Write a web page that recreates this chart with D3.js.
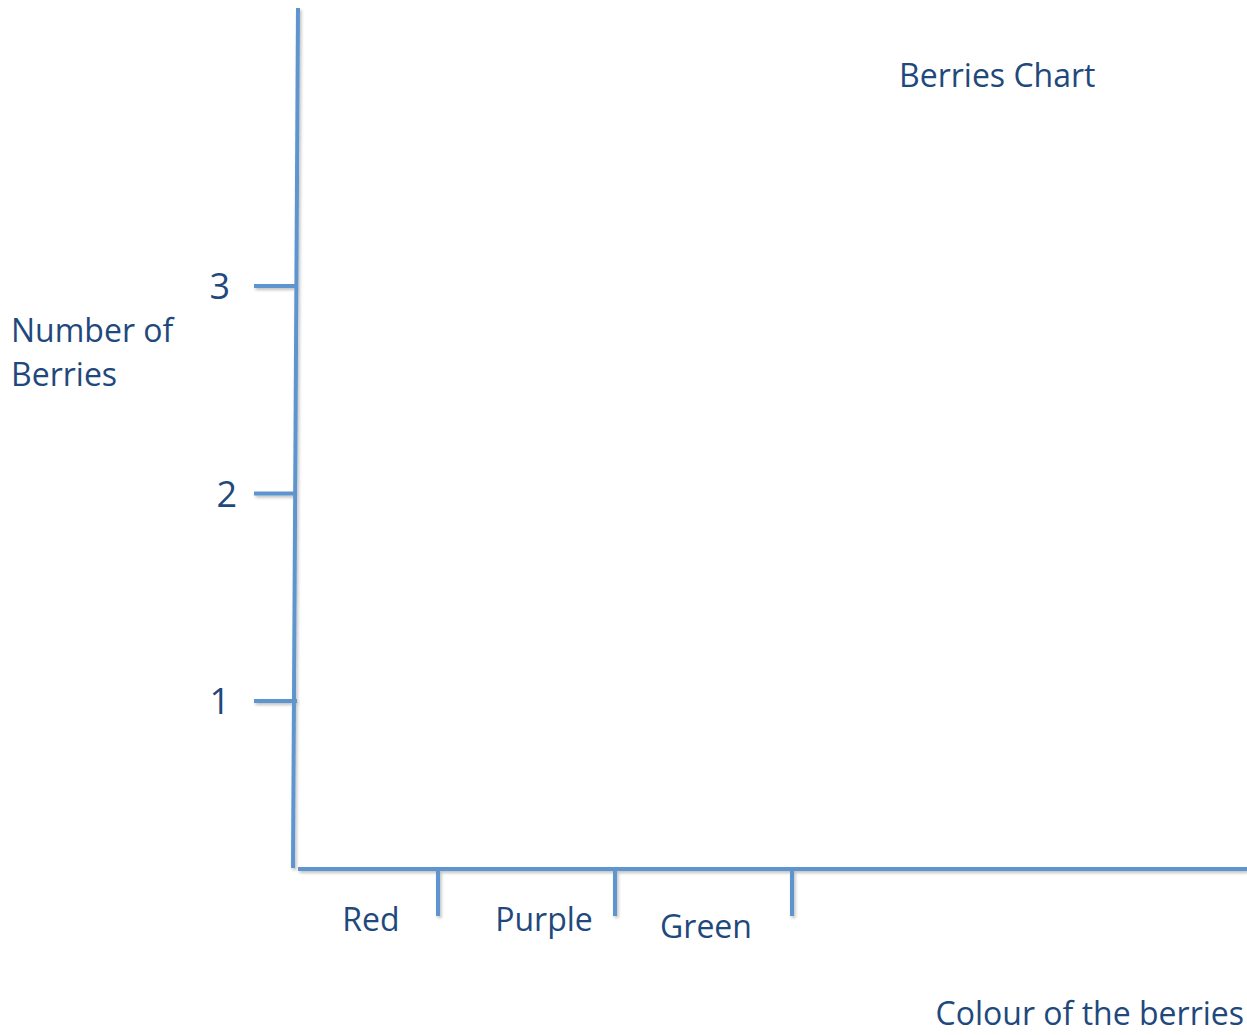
<!DOCTYPE html>
<meta charset="utf-8">
<title>Berries Chart</title>
<script src="https://d3js.org/d3.v7.min.js"></script>
<style>
  body { margin: 0; background: #fff; }
  text { font-family: "Open Sans", sans-serif; fill: #1f497d; }
</style>
<body>
<svg class=chart></svg>
<script>

// data
var colours = ["Red", "Purple", "Green"];
var count_ticks = [1, 2, 3];
var title = "Berries Chart";
var y_label = ["Number of", "Berries"];
var x_label = "Colour of the berries";

var width = 1247;
var height = 1035;
var axis_colour = "#5f95cf";

var svg = d3.select(".chart")
  .attr("width", width)
  .attr("height", height);

var defs = svg.append("defs");
defs.append("filter")
  .attr("id", "shadow")
  .attr("x", "-20%").attr("y", "-20%")
  .attr("width", "140%").attr("height", "140%")
  .append("feDropShadow")
    .attr("dx", 1.5).attr("dy", 2)
    .attr("stdDeviation", 1.5)
    .attr("flood-color", "#000")
    .attr("flood-opacity", 0.25);

var y = d3.scaleLinear()
  .domain([1, 3])
  .range([701, 286]);

var x = d3.scaleBand()
  .domain(colours)
  .range([261, 792]);

var lines = svg.append("g")
  .attr("filter", "url(#shadow)")
  .attr("stroke", axis_colour)
  .attr("stroke-width", 4)
  .attr("fill", "none");

// y axis (slightly slanted, drawn by hand in the original)
lines.append("line")
  .attr("x1", 298).attr("y1", 8)
  .attr("x2", 293).attr("y2", 868);

// x axis
lines.append("line")
  .attr("x1", 298).attr("y1", 869)
  .attr("x2", width).attr("y2", 869);

lines.selectAll(".y-tick")
  .data(count_ticks)
  .enter().append("line")
    .attr("class", "y-tick")
    .attr("x1", 254).attr("x2", 297)
    .attr("y1", function(d) { return y(d); })
    .attr("y2", function(d) { return y(d); });

lines.selectAll(".x-tick")
  .data(colours)
  .enter().append("line")
    .attr("class", "x-tick")
    .attr("x1", function(d) { return x(d) + x.bandwidth(); })
    .attr("x2", function(d) { return x(d) + x.bandwidth(); })
    .attr("y1", 870).attr("y2", 916);

svg.selectAll(".y-num")
  .data(count_ticks)
  .enter().append("text")
    .attr("class", "y-num")
    .attr("x", function(d) { return d == 2 ? 237 : 230; })
    .attr("y", function(d) { return y(d) + 13; })
    .attr("text-anchor", "end")
    .style("font-size", "36px")
    .text(function(d) { return d; });

svg.selectAll(".x-cat")
  .data(colours)
  .enter().append("text")
    .attr("class", "x-cat")
    .attr("x", function(d, i) { return x(d) + x.bandwidth() - (i == 2 ? 86 : i == 0 ? 67 : 71); })
    .attr("y", function(d, i) { return i == 2 ? 938 : 931; })
    .attr("text-anchor", "middle")
    .style("font-size", "32px")
    .text(function(d) { return d; });

svg.append("text")
  .attr("x", 899).attr("y", 87)
  .style("font-size", "32px")
  .text(title);

svg.append("text")
  .attr("x", 11).attr("y", 342)
  .style("font-size", "32px")
  .selectAll("tspan")
  .data(y_label)
  .enter().append("tspan")
    .attr("x", 11)
    .attr("dy", function(d, i) { return i ? 44 : 0; })
    .text(function(d) { return d; });

svg.append("text")
  .attr("x", 1244).attr("y", 1025)
  .attr("text-anchor", "end")
  .style("font-size", "32px")
  .text(x_label);

</script>
</body>
